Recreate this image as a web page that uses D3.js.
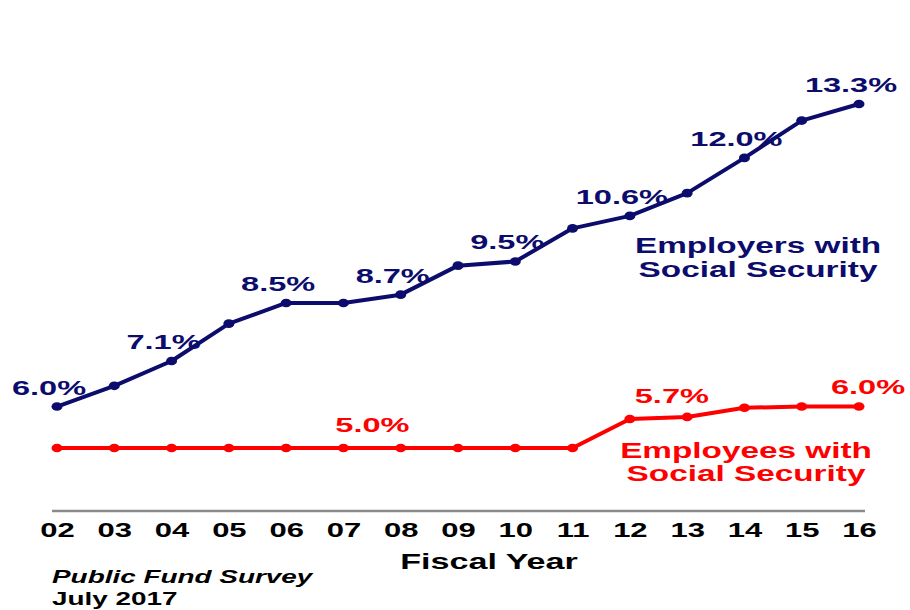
<!DOCTYPE html>
<html>
<head>
<meta charset="utf-8">
<script src="https://cdn.jsdelivr.net/npm/d3@7"></script>
<style>
  html, body { margin: 0; padding: 0; background: #fff; }
  svg { display: block; }
  text { font-family: "Liberation Sans", Arial, sans-serif; font-weight: bold; }
</style>
</head>
<body>
<svg id="chart" width="910" height="610"></svg>
<script>
// ---- data ----
const years = ["02","03","04","05","06","07","08","09","10","11","12","13","14","15","16"];
const employers = [6.0, 6.5, 7.1, 8.0, 8.5, 8.5, 8.7, 9.4, 9.5, 10.3, 10.6, 11.15, 12.0, 12.9, 13.3];
const employees = [5.0, 5.0, 5.0, 5.0, 5.0, 5.0, 5.0, 5.0, 5.0, 5.0, 5.7, 5.75, 5.97, 6.0, 6.0];
const employerLabelYears = ["02","04","06","08","10","12","14","16"];
const employeeLabelYears = ["07","12","16"];
const employerName = ["Employers with", "Social Security"];
const employeeName = ["Employees with", "Social Security"];
const xTitle = "Fiscal Year";
const sourceLines = ["Public Fund Survey", "July 2017"];

// ---- styles ----
const NAVY = "#0c0c6c", RED = "#ff0000";
const SX = 1.55; // horizontal stretch of text seen in reference
const employeeLabelOffsets = { "07": [29, -16], "12": [42, -16], "16": [9, -13] };

const svg = d3.select("#chart");
const x = d3.scalePoint().domain(years).range([57, 859]);
const y = d3.scaleLinear().domain([5, 13.3]).range([448, 104]);

function txt(px, py, str, size, color, anchor, italic) {
  return svg.append("text")
    .attr("transform", `translate(${px},${py}) scale(${SX},1)`)
    .attr("text-anchor", anchor || "middle")
    .attr("font-size", size)
    .attr("font-style", italic ? "italic" : "normal")
    .attr("fill", color)
    .text(str);
}

// axis baseline
svg.append("line")
  .attr("x1", x(years[0]) - 5).attr("x2", x(years[years.length - 1]) + 6)
  .attr("y1", 511).attr("y2", 511)
  .attr("stroke", "#8a8a8a").attr("stroke-width", 2.5);

// x axis tick labels via d3 axis
const axisG = svg.append("g").attr("transform", "translate(0,511)")
  .call(d3.axisBottom(x).tickSize(0).tickPadding(0));
axisG.select(".domain").remove();
axisG.selectAll(".tick text").each(function(d) {
  const t = d3.select(this);
  t.attr("y", 0).attr("dy", 0)
   .attr("transform", `translate(0,26) scale(${SX},1)`)
   .attr("font-size", 20).attr("fill", "#000")
   .attr("font-family", "'Liberation Sans', Arial, sans-serif")
   .attr("font-weight", "bold");
});

// lines
const line = d3.line().x((d, i) => x(years[i])).y(d => y(d));
function series(vals, color) {
  svg.append("path").datum(vals)
    .attr("d", line).attr("fill", "none")
    .attr("stroke", color).attr("stroke-width", 4).attr("stroke-linejoin", "round");
  svg.selectAll(null).data(vals).enter().append("ellipse")
    .attr("cx", (d, i) => x(years[i])).attr("cy", d => y(d))
    .attr("rx", 5.5).attr("ry", 4.3).attr("fill", color);
}
series(employees, RED);
series(employers, NAVY);

// value labels
employerLabelYears.forEach(yr => {
  const v = employers[years.indexOf(yr)];
  txt(x(yr) - 8, y(v) - 12, v.toFixed(1) + "%", 21, NAVY);
});
employeeLabelYears.forEach(yr => {
  const v = employees[years.indexOf(yr)];
  const o = employeeLabelOffsets[yr];
  txt(x(yr) + o[0], y(v) + o[1], v.toFixed(1) + "%", 21, RED);
});

// series names
txt(758, 253, employerName[0], 21.5, NAVY);
txt(758, 277, employerName[1], 21.5, NAVY);
txt(746, 458, employeeName[0], 21.5, RED);
txt(746, 481, employeeName[1], 21.5, RED);

// axis title
txt(489, 569, xTitle, 22, "#000");

// source
txt(52, 583, sourceLines[0], 18, "#000", "start", true);
txt(52, 605, sourceLines[1], 18, "#000", "start", false);
</script>
</body>
</html>
